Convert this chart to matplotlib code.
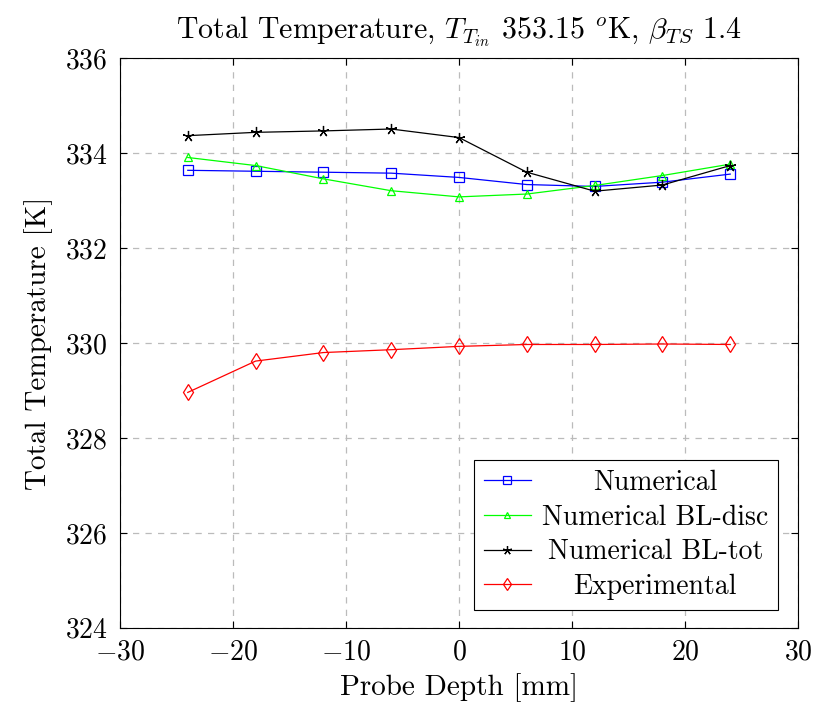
import matplotlib
matplotlib.use("Agg")
import matplotlib.pyplot as plt
import numpy as np

depth = [-24, -18, -12, -6, 0, 6, 12, 18, 24]
numerical = [333.64, 333.62, 333.60, 333.58, 333.49, 333.34, 333.30, 333.39, 333.56]
bl_disc = [333.91, 333.74, 333.46, 333.21, 333.08, 333.14, 333.32, 333.53, 333.77]
bl_tot = [334.37, 334.44, 334.47, 334.51, 334.33, 333.60, 333.20, 333.33, 333.74]
experimental = [328.96, 329.62, 329.80, 329.86, 329.93, 329.97, 329.97, 329.98, 329.97]

plt.rcParams['font.family'] = 'serif'
plt.rcParams['font.serif'] = ['cmr10']
plt.rcParams['mathtext.fontset'] = 'cm'
plt.rcParams['axes.formatter.use_mathtext'] = True
plt.rcParams['axes.unicode_minus'] = True

fig = plt.figure(figsize=(8.16, 7.11), dpi=100)
ax = fig.add_axes([0.147, 0.117, 0.831, 0.801])

ax.plot(depth, numerical, color='blue', lw=0.9, marker='s', ms=7, mfc='none', mew=0.9, label='Numerical')
ax.plot(depth, bl_disc, color='#00ff00', lw=0.9, marker='^', ms=6, mfc='none', mew=0.9, label='Numerical BL-disc')
ax.plot(depth, bl_tot, color='black', lw=0.9, marker=(5, 2, 0), ms=8, mew=0.9, label='Numerical BL-tot')
ax.plot(depth, experimental, color='red', lw=0.9, marker='d', ms=8, mfc='none', mew=0.9, label='Experimental')

ax.set_xlim(-30, 30)
ax.set_ylim(324, 336)
ax.set_xticks(np.arange(-30, 31, 10))
ax.set_yticks(np.arange(324, 337, 2))
ax.grid(True, color='#bbbbbb', linestyle=(0, (5, 5)), lw=0.9)
ax.tick_params(direction='in', top=True, right=True, labelsize=20, length=5)
ax.tick_params(axis='x', pad=8)
ax.tick_params(axis='y', pad=9)
for s in ax.spines.values():
    s.set_linewidth(0.8)

ax.set_xlabel('Probe Depth [mm]', fontsize=21, labelpad=6)
ax.set_ylabel('Total Temperature [K]', fontsize=21, labelpad=8)
ax.set_title(r'Total Temperature, $T_{T_{in}}$ 353.15 $^{o}$K, $\beta_{TS}$ 1.4', fontsize=21.5, pad=14)

leg = ax.legend(loc='lower right', fontsize=20, fancybox=False, edgecolor='black',
                framealpha=1, borderpad=0.35, labelspacing=0.3, handlelength=1.7,
                handletextpad=0.4, markerscale=0.8, borderaxespad=0,
                bbox_to_anchor=(0.9705, 0.0316))
leg.get_frame().set_linewidth(0.8)

# centre the legend labels in their column, like the original
fig.canvas.draw()
r = fig.canvas.get_renderer()
widths = [t.get_window_extent(r).width for t in leg.get_texts()]
wmax = max(widths)
for t, w in zip(leg.get_texts(), widths):
    t.set_position(((wmax - w) / 2, 0))

fig.savefig('out.png', dpi=100)
